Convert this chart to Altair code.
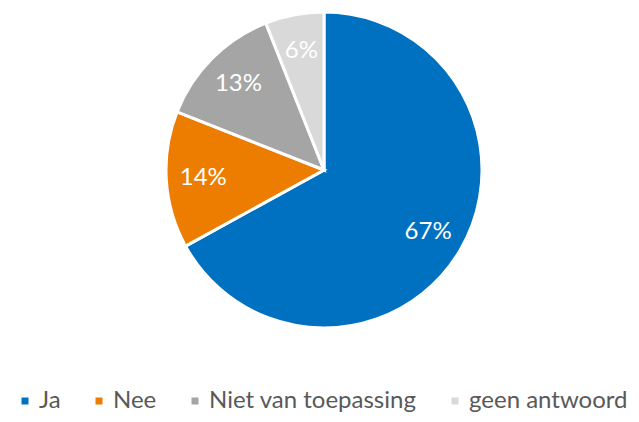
import altair as alt
import pandas as pd

categories = ["Ja", "Nee", "Niet van toepassing", "geen antwoord"]
values = [67, 14, 13, 6]
labels = ["67%", "14%", "13%", "6%"]
colors = ["#0070C0", "#ED7D00", "#A5A5A5", "#D9D9D9"]

df = pd.DataFrame({
    "cat": categories,
    "val": values,
    "label": labels,
    "idx": list(range(len(categories))),
})

FONT = "Lato"

base = alt.Chart(df).encode(
    theta=alt.Theta("val:Q", stack=True),
    order=alt.Order("idx:Q", sort="ascending"),
)

arcs = base.mark_arc(outerRadius=158, stroke="white", strokeWidth=3).encode(
    x=alt.value(316),
    y=alt.value(162),
    color=alt.Color(
        "cat:N",
        scale=alt.Scale(domain=categories, range=colors),
        sort=categories,
        legend=alt.Legend(
            title=None,
            orient="none",
            direction="horizontal",
            legendX=5,
            legendY=381,
            padding=0,
            symbolType="square",
            symbolSize=49,
            symbolStrokeWidth=0,
            labelFont=FONT,
            labelFontSize=24,
            labelColor="#595959",
            labelOffset=2,
            columnPadding=26,
            labelLimit=400,
        ),
    ),
)

text = base.mark_text(radius=121, font=FONT, fontSize=24, color="white").encode(
    x=alt.value(316),
    y=alt.value(162),
    text="label:N",
)

chart = (arcs + text).properties(
    width=623,
    height=406,
    padding=0,
    autosize=alt.AutoSizeParams(type="none"),
).configure(background="white", view=alt.ViewConfig(stroke=None))

chart.save("out.html", embed_options={"renderer": "svg", "actions": False})
